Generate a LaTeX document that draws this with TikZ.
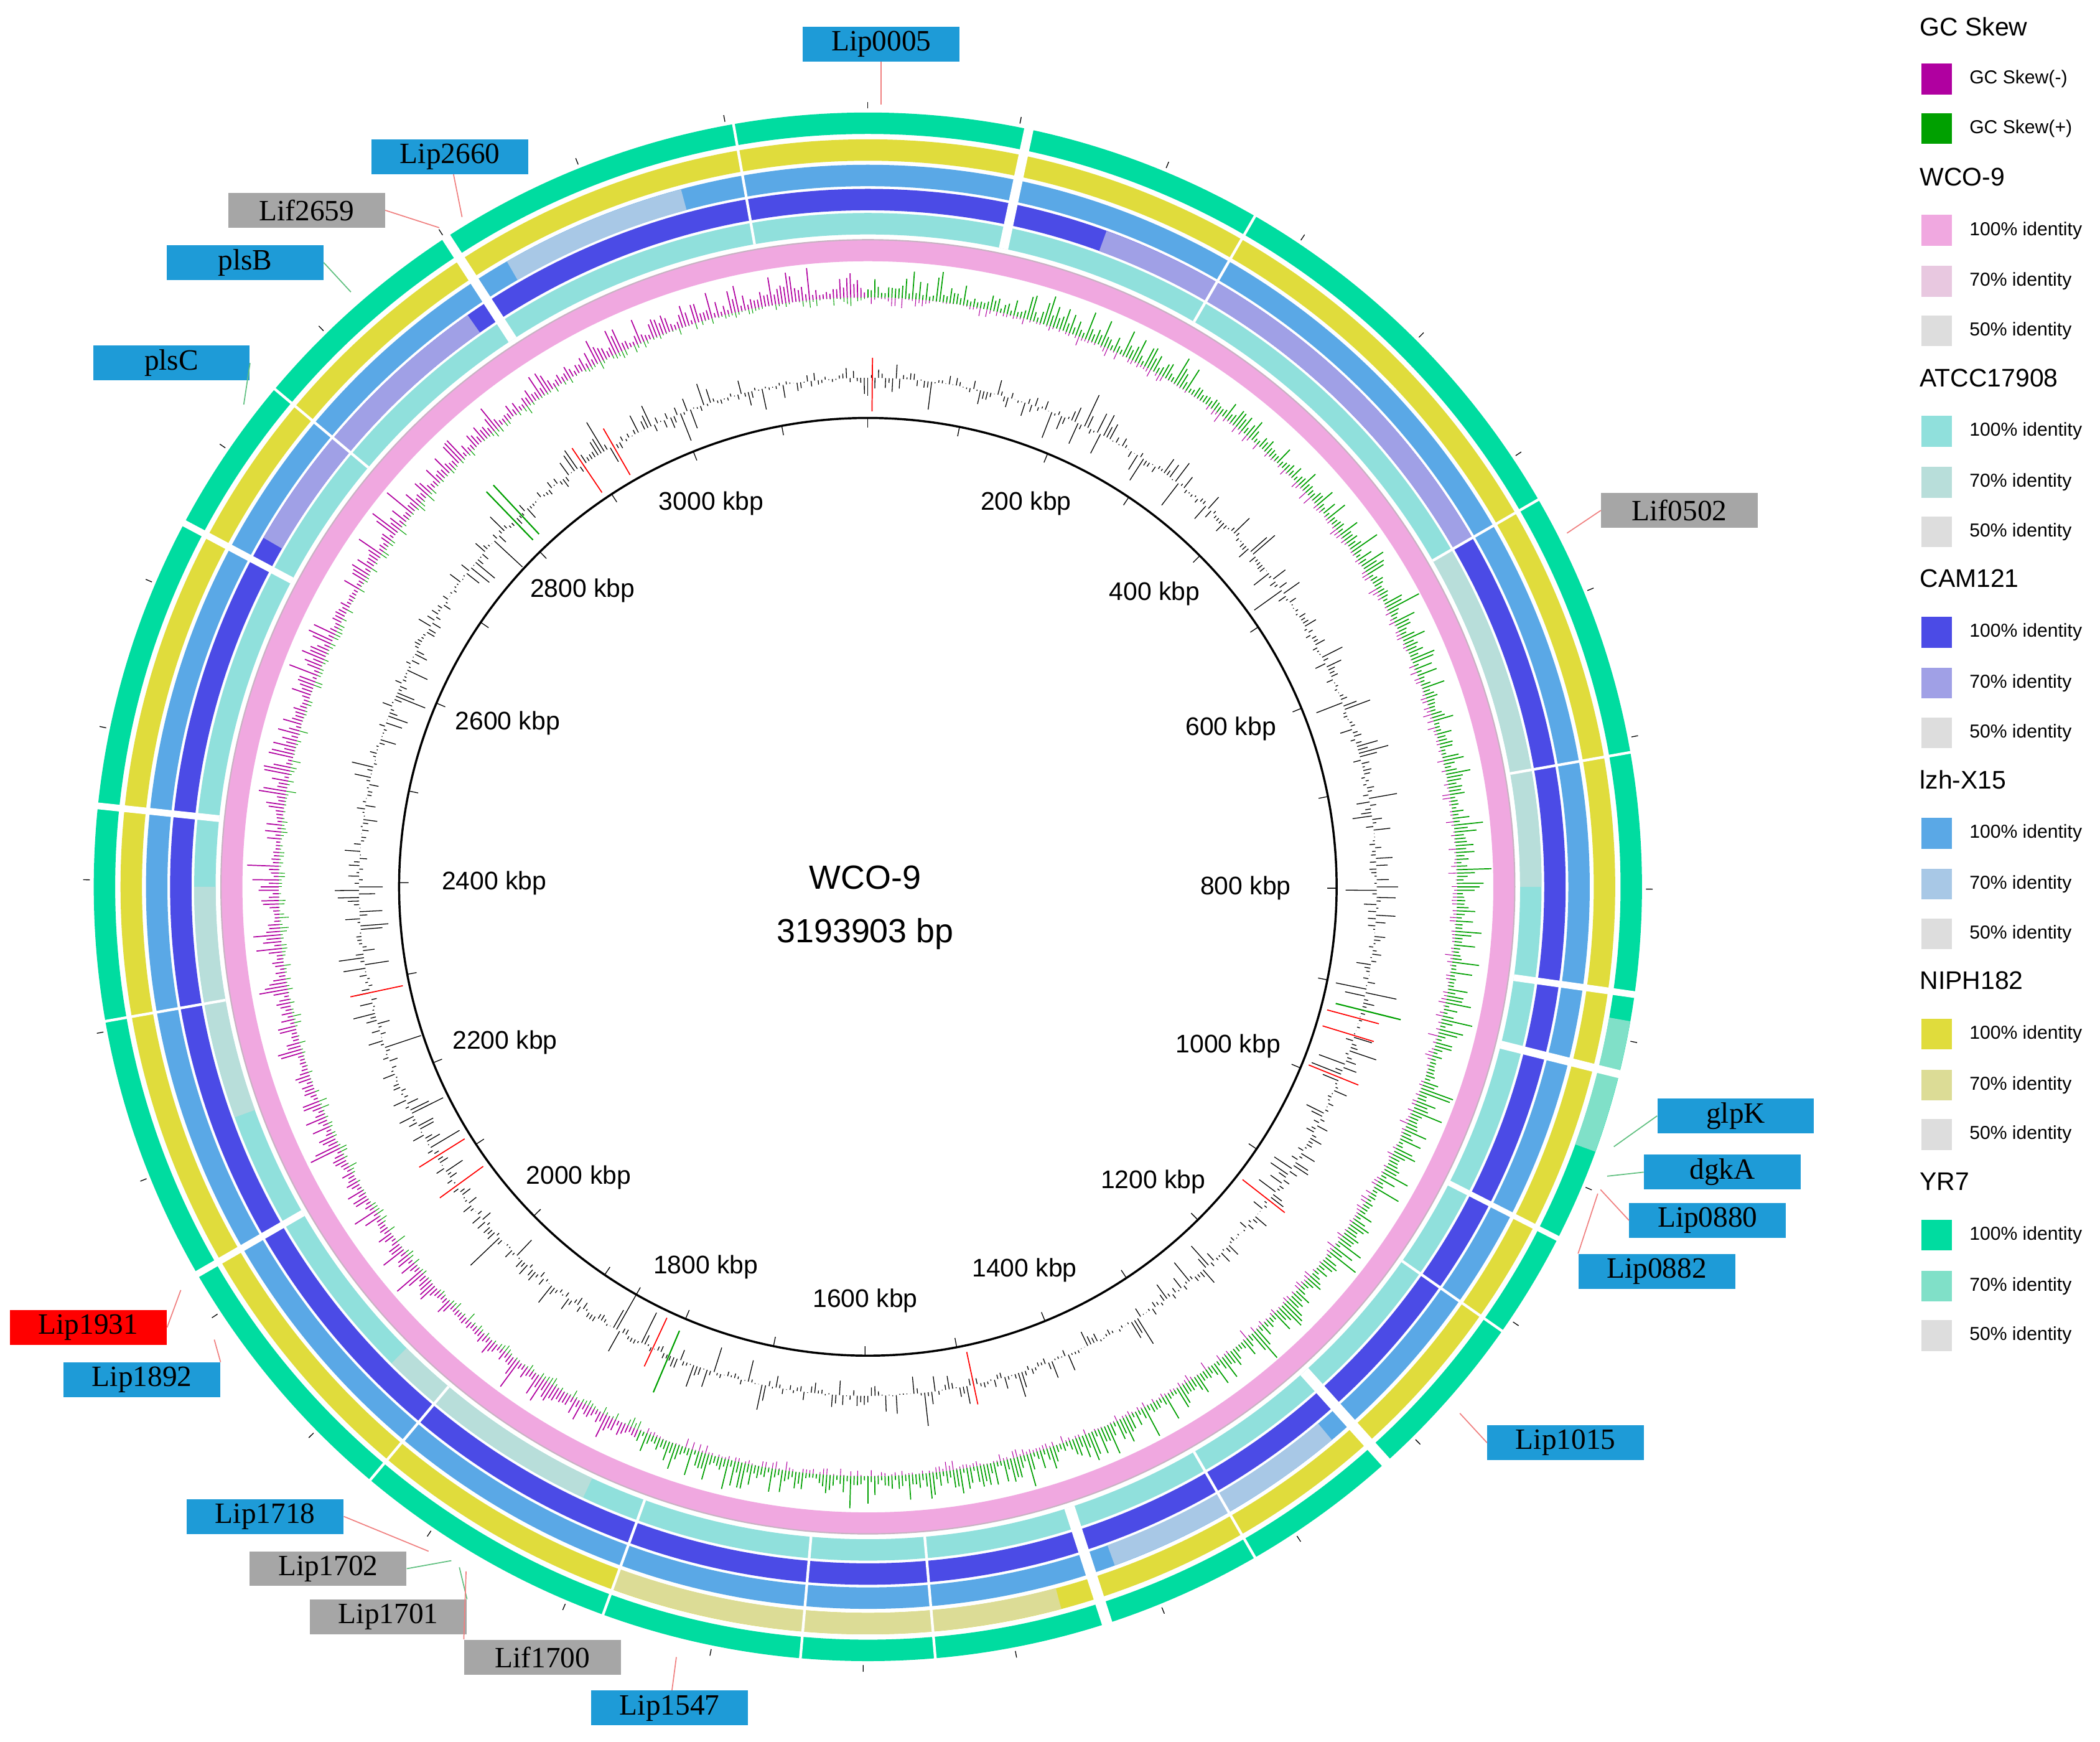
\documentclass[tikz,border=0pt]{standalone}
\usepackage{fontspec}
\setmainfont{Liberation Sans}
\newfontfamily\lblfont{Liberation Serif}
\definecolor{lblue}{HTML}{1E9BD7}
\definecolor{lgray}{HTML}{A6A6A6}
\definecolor{pk1}{HTML}{F0A8E0}\definecolor{pk2}{HTML}{E8C8E0}
\definecolor{cy1}{HTML}{90E0DC}\definecolor{cy2}{HTML}{B8DEDA}
\definecolor{bl1}{HTML}{4B4BE6}\definecolor{bl2}{HTML}{A0A0E6}
\definecolor{lb1}{HTML}{5AA8E6}\definecolor{lb2}{HTML}{A8C8E6}
\definecolor{ye1}{HTML}{E0DC3C}\definecolor{ye2}{HTML}{DCDC96}
\definecolor{gr1}{HTML}{00DCA0}\definecolor{gr2}{HTML}{80E0C8}
\definecolor{gy}{HTML}{DDDDDD}
\definecolor{skm}{HTML}{B000A0}\definecolor{skp}{HTML}{00A000}
\definecolor{lnr}{HTML}{F08080}\definecolor{lng}{HTML}{60C080}
\tikzset{
 lab/.style={minimum width=117pt,minimum height=26pt,inner sep=0pt,font=\lblfont\fontsize{22}{22}\selectfont},
 bx/.style={lab,fill=lblue},
 gx/.style={lab,fill=lgray},
 rx/.style={lab,fill=red},
 con/.style={draw=lnr,line width=0.8pt},
 cong/.style={draw=lng,line width=0.8pt},
 tk/.style={font=\fontsize{19}{19}\selectfont},
 hd/.style={font=\fontsize{19}{19}\selectfont,anchor=west},
 it/.style={font=\fontsize{14}{14}\selectfont,anchor=west},
 sw/.style={minimum size=23pt,inner sep=0pt},
 ring/.style={line width=16pt},
}
\begin{document}
\begin{tikzpicture}[x=1pt,y=-1pt]
\useasboundingbox (0,0) rectangle (1568,1300);
\fill[white] (0,0) rectangle (1568,1300);
% rings
\draw[ring,pk1] (648,662) circle[radius=475pt];
\draw[line width=1pt,pk2!70!gray] (648,662) circle[radius=483pt];
\draw[ring,cy1] (648,662) circle[radius=495pt];
\draw[ring,bl1] (648,662) circle[radius=513pt];
\draw[ring,lb1] (648,662) circle[radius=531pt];
\draw[ring,ye1] (648,662) circle[radius=550pt];
\draw[ring,gr1] (648,662) circle[radius=570pt];
% lighter segments
\foreach \a/\b/\r/\c in {20/60/513/bl2,140/160/531/lb2,250/270/495/cy2,300/325/513/bl2,165/200/550/ye2,100/110/570/gr2,205/225/495/cy2,330/345/531/lb2,60/90/495/cy2}{
 \draw[line width=16pt,\c] ({648+\r*sin(\a)},{662-\r*cos(\a)}) arc[start angle={90-\a},end angle={90-\b},radius=\r pt];}
% gaps
\foreach \t/\w in {12/7,327/7,298/5,276/5,240/5,162/8,138/8,104/6,98/5,117/4,60/2,80/2,30/2,185/2,200/2,220/2,260/2,310/2,350/2,125/2,150/2,175/2}{
 \draw[white,line width=\w pt] ({648+487*sin(\t)},{662-487*cos(\t)}) -- ({648+579*sin(\t)},{662-579*cos(\t)});}
% GC skew
\pgfmathsetseed{7}
\foreach \i in {0,...,1079}{
 \pgfmathsetmacro\t{\i/3}
 \pgfmathsetmacro\h{rnd*rnd*24+3}
 \pgfmathsetmacro\g{rnd*rnd*8}
 \ifdim\t pt<203pt
  \draw[skp,line width=0.8pt] ({648+440*sin(\t)},{662-440*cos(\t)}) -- ({648+(440+\h)*sin(\t)},{662-(440+\h)*cos(\t)});
  \draw[skm,line width=0.5pt] ({648+440*sin(\t)},{662-440*cos(\t)}) -- ({648+(440-\g)*sin(\t)},{662-(440-\g)*cos(\t)});
 \else
  \draw[skm,line width=0.8pt] ({648+440*sin(\t)},{662-440*cos(\t)}) -- ({648+(440+\h)*sin(\t)},{662-(440+\h)*cos(\t)});
  \draw[skp,line width=0.5pt] ({648+440*sin(\t)},{662-440*cos(\t)}) -- ({648+(440-\g)*sin(\t)},{662-(440-\g)*cos(\t)});
 \fi}
% GC content
\foreach \i in {0,...,899}{
 \pgfmathsetmacro\t{\i*0.4}
 \pgfmathsetmacro\h{rand*rand*rand*36+rand*5}
 \draw[black,line width=0.6pt] ({648+380*sin(\t)},{662-380*cos(\t)}) -- ({648+(380+\h)*sin(\t)},{662-(380+\h)*cos(\t)});}
\foreach \t in {0.5,330,326,105,107,112,128,234,238,205,168,258}{
 \draw[red,line width=0.8pt] ({648+355*sin(\t)},{662-355*cos(\t)}) -- ({648+395*sin(\t)},{662-395*cos(\t)});}
\foreach \t in {316,317,104,203}{
 \draw[skp,line width=1pt] ({648+360*sin(\t)},{662-360*cos(\t)}) -- ({648+410*sin(\t)},{662-410*cos(\t)});}
% inner circle + ticks
\draw[black,line width=1.6pt] (648,662) circle[radius=350pt];
\foreach \k in {0,...,31}{
 \pgfmathsetmacro\t{\k*100/3193.903*360}
 \draw[black,line width=0.6pt] ({648+350*sin(\t)},{662-350*cos(\t)}) -- ({648+343*sin(\t)},{662-343*cos(\t)});
 \draw[black,line width=0.6pt] ({648+581*sin(\t)},{662-581*cos(\t)}) -- ({648+586*sin(\t)},{662-586*cos(\t)});}
% tick labels
\foreach \x/\y/\s [count=\n] in {531/376/3000,766/376/200,862/443/400,919/544/600,930/663/800,917/781/1000,861/882/1200,765/948/1400,646/971/1600,527/946/1800,432/879/2000,377/778/2200,369/659/2400,379/540/2600,435/441/2800}
 \node[tk] (k\n) at (\x,\y) {\s\ kbp};
\node[font=\fontsize{25}{25}\selectfont] (c1) at (646,655) {WCO-9};
\node[font=\fontsize{25}{25}\selectfont] (c2) at (646,697) {3193903 bp};
% gene labels
\node[bx] (L0005) at (658,33) {Lip0005}; \coordinate (e0005) at (658,78); \draw[con] (L0005) -- (e0005);
\node[bx] (L2660) at (336,117) {Lip2660}; \coordinate (e2660) at (345,162); \draw[con] (L2660) -- (e2660);
\node[gx] (L2659) at (229,157) {Lif2659}; \coordinate (e2659) at (328,170); \draw[con] (L2659.east) -- (e2659);
\node[bx] (LplsB) at (183,196) {plsB}; \coordinate (eplsB) at (262,218); \draw[cong] (LplsB.east) -- (eplsB);
\node[bx] (LplsC) at (128,271) {plsC}; \coordinate (eplsC) at (182,302); \draw[cong] (LplsC.east) -- (eplsC);
\node[gx] (L0502) at (1254,381) {Lif0502}; \coordinate (e0502) at (1170,398); \draw[con] (L0502.west) -- (e0502);
\node[bx] (LglpK) at (1296,833) {glpK}; \coordinate (eglpK) at (1205,856); \draw[cong] (LglpK.west) -- (eglpK);
\node[bx] (LdgkA) at (1286,875) {dgkA}; \coordinate (edgkA) at (1200,878); \draw[cong] (LdgkA.west) -- (edgkA);
\node[bx] (L0880) at (1275,911) {Lip0880}; \coordinate (e0880) at (1195,888); \draw[con] (L0880.west) -- (e0880);
\node[bx] (L0882) at (1237,949) {Lip0882}; \coordinate (e0882) at (1193,891); \draw[con] (L0882.north west) -- (e0882);
\node[bx] (L1015) at (1169,1077) {Lip1015}; \coordinate (e1015) at (1090,1055); \draw[con] (L1015.west) -- (e1015);
\node[rx] (L1931) at (66,991) {Lip1931}; \coordinate (e1931) at (135,963); \draw[con] (L1931.east) -- (e1931);
\node[bx] (L1892) at (106,1030) {Lip1892}; \coordinate (e1892) at (160,1000); \draw[con] (L1892.north east) -- (e1892);
\node[bx] (L1718) at (198,1132) {Lip1718}; \coordinate (e1718) at (320,1158); \draw[con] (L1718.east) -- (e1718);
\node[gx] (L1702) at (245,1171) {Lip1702}; \coordinate (e1702) at (337,1165); \draw[cong] (L1702.east) -- (e1702);
\node[gx] (L1701) at (290,1207) {Lip1701}; \coordinate (e1701) at (343,1170); \draw[cong] (L1701.north east) -- (e1701);
\node[gx] (L1700) at (405,1237) {Lif1700}; \coordinate (e1700) at (348,1173); \draw[con] (L1700.north west) -- (e1700);
\node[bx] (L1547) at (500,1275) {Lip1547}; \coordinate (e1547) at (505,1237); \draw[con] (L1547) -- (e1547);
% legend
\node[hd] (h0) at (1430,20) {GC Skew};
\node[sw,fill=skm] (s01) at (1446,59) {}; \node[it] (t01) at (1467,59) {GC Skew(-)};
\node[sw,fill=skp] (s02) at (1446,96) {}; \node[it] (t02) at (1467,96) {GC Skew(+)};
\foreach \nm/\ca/\cb [count=\j] in {WCO-9/pk1/pk2,ATCC17908/cy1/cy2,CAM121/bl1/bl2,lzh-X15/lb1/lb2,NIPH182/ye1/ye2,YR7/gr1/gr2}{
 \pgfmathsetmacro\yy{132+150*(\j-1)}
 \node[hd] (h\j) at (1430,\yy) {\nm};
 \node[sw,fill=\ca] (sa\j) at (1446,\yy+40) {}; \node[it] (ta\j) at (1467,\yy+40) {100\% identity};
 \node[sw,fill=\cb] (sb\j) at (1446,\yy+78) {}; \node[it] (tb\j) at (1467,\yy+78) {70\% identity};
 \node[sw,fill=gy] (sc\j) at (1446,\yy+115) {}; \node[it] (tc\j) at (1467,\yy+115) {50\% identity};
}
\end{tikzpicture}
\end{document}
